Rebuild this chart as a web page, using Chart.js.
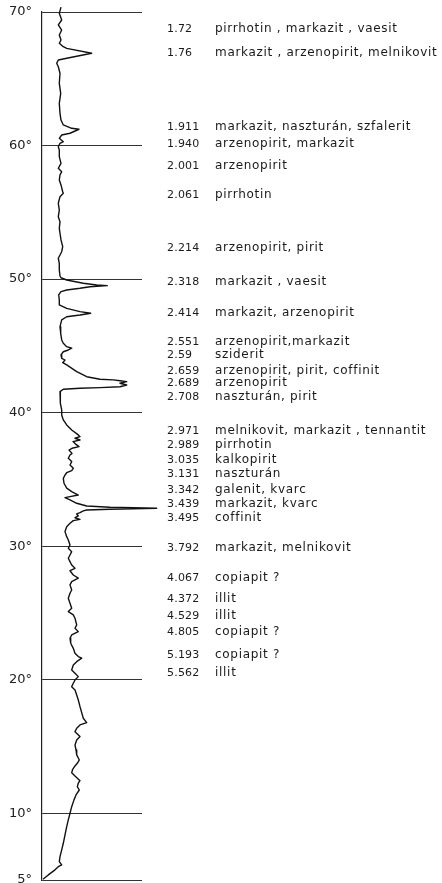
<!DOCTYPE html>
<html lang="hu">
<head>
<meta charset="UTF-8">
<title>Röntgendiffraktogram</title>
<script src="https://cdn.jsdelivr.net/npm/chart.js"></script>
<style>
  html, body { margin: 0; padding: 0; background: #fff; }
</style>
</head>
<body>
<canvas id="xrd" width="442" height="883"></canvas>
<script>
// 2theta (degrees) along the recorded trace, from top to bottom
const angles = [
  70.37, 69.90, 69.40, 69.03, 68.65, 68.28, 67.90, 67.66, 67.40, 67.28,
  66.91, 66.61, 66.41, 66.16, 65.90, 65.41, 64.66, 63.91, 63.16, 62.41,
  61.91, 61.54, 61.29, 61.22, 60.92, 60.79, 60.54, 60.29, 60.17, 59.91,
  59.67, 59.17, 58.67, 58.30, 58.04, 57.80, 57.42, 57.05, 56.54, 56.42,
  56.17, 55.68, 55.17, 54.67, 54.30, 53.80, 53.43, 52.93, 52.43, 52.05,
  51.80, 51.56, 51.18, 50.68, 50.23, 50.10, 49.93, 49.69, 49.56, 49.51,
  49.43, 49.31, 49.18, 49.06, 48.81, 48.44, 48.06, 47.81, 47.56, 47.44,
  47.31, 47.18, 46.94, 46.44, 45.94, 45.44, 45.19, 44.94, 44.82, 44.69,
  44.56, 44.32, 44.07, 43.94, 43.74, 43.57, 43.07, 42.69, 42.50, 42.45,
  42.39, 42.32, 42.20, 42.07, 41.94, 41.87, 41.82, 41.75, 41.57, 41.19,
  40.70, 40.20, 39.82, 39.45, 39.08, 38.70, 38.33, 38.20, 38.08, 37.95,
  37.83, 37.62, 37.45, 37.33, 37.20, 36.95, 36.83, 36.58, 36.33, 36.08,
  35.83, 35.65, 35.50, 35.33, 35.08, 34.71, 34.34, 34.08, 33.83, 33.71,
  33.63, 33.46, 33.21, 33.01, 32.91, 32.84, 32.76, 32.71, 32.64, 32.51,
  32.41, 32.26, 32.13, 32.01, 31.91, 31.71, 31.46, 31.09, 30.71, 30.46,
  30.09, 29.84, 29.59, 29.34, 29.09, 28.84, 28.59, 28.34, 28.16, 27.84,
  27.60, 27.47, 27.34, 27.10, 26.72, 26.47, 26.10, 25.72, 25.35, 25.10,
  24.85, 24.60, 24.10, 23.85, 23.60, 23.35, 23.10, 22.73, 22.35, 21.98,
  21.73, 21.61, 21.35, 21.10, 20.73, 20.48, 20.23, 19.98, 19.73, 19.48,
  19.23, 18.86, 18.48, 17.98, 17.11, 16.78, 16.61, 16.36, 16.11, 15.74,
  15.49, 15.11, 14.74, 14.37, 13.99, 13.74, 13.54, 13.29, 13.04, 12.79,
  12.44, 12.25, 11.99, 11.74, 11.37, 11.00, 10.49, 10.00, 9.50, 9.00,
  8.38, 7.75, 7.25, 6.75, 6.38, 6.13, 6.00, 5.76, 5.38, 5.05
];

// recorder deflection (arbitrary units)
const intensity = [
  19.0, 17.3, 19.7, 16.3, 19.7, 17.3, 19.0, 17.3, 21.3, 24.7,
  49.7, 29.7, 16.3, 14.7, 16.3, 18.0, 17.3, 18.7, 17.3, 18.0,
  19.0, 21.3, 29.7, 37.0, 28.0, 19.7, 17.3, 21.3, 18.0, 16.3,
  17.3, 17.3, 19.0, 16.3, 19.7, 18.0, 17.3, 19.0, 20.7, 21.3,
  18.0, 16.3, 17.3, 16.3, 18.0, 17.3, 18.0, 19.0, 20.7, 19.7,
  18.0, 16.3, 17.3, 17.3, 18.0, 19.0, 24.7, 41.3, 54.7, 65.3,
  48.0, 38.0, 24.7, 19.0, 16.7, 17.3, 17.3, 24.7, 38.0, 48.7,
  38.0, 24.7, 19.7, 18.0, 18.7, 19.7, 21.3, 24.7, 29.7, 26.3,
  21.3, 19.0, 19.7, 23.0, 20.7, 24.7, 34.7, 44.7, 58.0, 71.3,
  78.0, 84.7, 78.0, 84.7, 78.0, 58.0, 38.0, 21.3, 18.0, 18.7,
  18.0, 19.7, 19.7, 21.3, 24.7, 29.7, 36.3, 38.0, 33.0, 38.0,
  31.0, 34.0, 37.0, 30.0, 27.0, 30.0, 28.0, 26.3, 29.7, 28.0,
  31.3, 29.7, 24.7, 23.0, 21.3, 22.0, 24.7, 29.7, 36.3, 28.0,
  23.0, 28.0, 34.7, 44.7, 68.0, 114.7, 68.0, 44.7, 41.3, 38.0,
  34.7, 36.3, 33.0, 38.0, 31.3, 28.0, 24.7, 23.0, 24.7, 26.3,
  28.0, 26.3, 29.7, 28.0, 26.3, 28.0, 29.7, 33.0, 28.0, 31.3,
  36.3, 33.0, 29.7, 28.0, 29.7, 28.0, 26.3, 28.0, 29.7, 26.3,
  31.3, 33.0, 34.7, 33.0, 36.3, 29.7, 28.0, 28.7, 31.3, 33.0,
  36.3, 39.7, 34.7, 31.3, 29.7, 33.0, 36.3, 33.0, 31.3, 29.7,
  33.0, 34.7, 36.3, 38.0, 41.3, 44.7, 38.0, 34.7, 33.0, 38.0,
  34.7, 33.0, 34.0, 34.7, 37.3, 35.3, 33.0, 30.7, 29.7, 33.0,
  38.0, 36.3, 35.3, 37.3, 34.0, 32.0, 29.7, 28.0, 26.3, 24.7,
  23.0, 21.3, 19.7, 18.0, 17.3, 19.7, 16.3, 13.0, 6.3, 1.0
];

const tickAngles = [5, 10, 20, 30, 40, 50, 60, 70];

// d-spacings (Å) and assigned minerals, with the 2theta where each line is written
const dValues = [
  '1.72', '1.76', '1.911', '1.940', '2.001', '2.061', '2.214', '2.318', '2.414',
  '2.551', '2.59', '2.659', '2.689', '2.708', '2.971', '2.989', '3.035', '3.131',
  '3.342', '3.439', '3.495', '3.792', '4.067', '4.372', '4.529', '4.805', '5.193', '5.562'
];
const minerals = [
  'pirrhotin , markazit , vaesit',
  'markazit , arzenopirit, melnikovit',
  'markazit, naszturán, szfalerit',
  'arzenopirit, markazit',
  'arzenopirit',
  'pirrhotin',
  'arzenopirit, pirit',
  'markazit , vaesit',
  'markazit, arzenopirit',
  'arzenopirit,markazit',
  'sziderit',
  'arzenopirit, pirit, coffinit',
  'arzenopirit',
  'naszturán, pirit',
  'melnikovit, markazit , tennantit',
  'pirrhotin',
  'kalkopirit',
  'naszturán',
  'galenit, kvarc',
  'markazit, kvarc',
  'coffinit',
  'markazit, melnikovit',
  'copiapit ?',
  'illit',
  'illit',
  'copiapit ?',
  'copiapit ?',
  'illit'
];
const labelAngles = [
  68.73, 66.93, 61.39, 60.12, 58.47, 56.30, 52.33, 49.78, 47.46,
  45.29, 44.32, 43.12, 42.22, 41.17, 38.63, 37.58, 36.45, 35.41,
  34.21, 33.16, 32.11, 29.87, 27.62, 26.05, 24.77, 23.58, 21.85, 20.51
];

const points = angles.map((a, i) => ({ x: intensity[i], y: a }));

// writes the d-value / mineral list to the right of the trace
const peakLabels = {
  id: 'peakLabels',
  afterDraw(chart) {
    const ctx = chart.ctx;
    const yScale = chart.scales.y;
    ctx.save();
    ctx.fillStyle = '#1a1a1a';
    ctx.textAlign = 'left';
    ctx.textBaseline = 'middle';
    labelAngles.forEach((a, i) => {
      const y = yScale.getPixelForValue(a);
      ctx.letterSpacing = '0.2px';
      ctx.font = '11px "DejaVu Sans"';
      ctx.fillText(dValues[i], 167, y);
      ctx.letterSpacing = '0.7px';
      ctx.font = '12px "DejaVu Sans"';
      ctx.fillText(minerals[i], 215, y);
    });
    ctx.restore();
  }
};

new Chart(document.getElementById('xrd'), {
  type: 'scatter',
  data: {
    datasets: [{
      data: points,
      showLine: true,
      pointRadius: 0,
      borderColor: '#111',
      borderWidth: 1.4,
      borderJoinStyle: 'round',
      clip: false
    }]
  },
  options: {
    responsive: false,
    animation: false,
    layout: { padding: { top: 12, bottom: 3, left: 8, right: 300 } },
    plugins: { legend: { display: false }, tooltip: { enabled: false } },
    scales: {
      x: { type: 'linear', min: 0, max: 100, display: false },
      y: {
        type: 'linear',
        min: 5,
        max: 70,
        afterBuildTicks: s => { s.ticks = tickAngles.map(v => ({ value: v })); },
        afterFit: s => { s.width = 34; s.paddingTop = 0; s.paddingBottom = 0; },
        ticks: {
          callback: v => v + '°',
          font: { family: 'DejaVu Sans', size: 13 },
          color: '#222',
          padding: 10
        },
        grid: { color: '#333', lineWidth: 1, drawTicks: false },
        border: { color: '#222', width: 1.2 }
      }
    }
  },
  plugins: [peakLabels]
});
</script>
</body>
</html>
